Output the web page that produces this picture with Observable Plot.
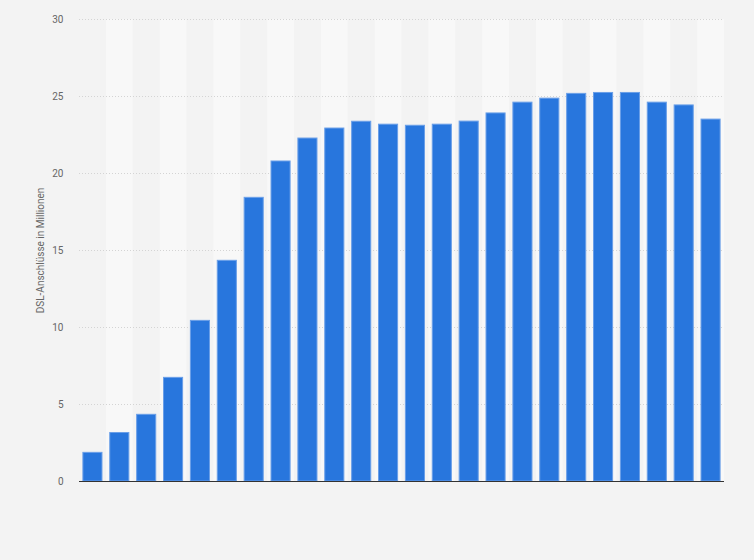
<!DOCTYPE html>
<html>
<head>
<meta charset="utf-8">
<script src="https://cdn.jsdelivr.net/npm/d3@7"></script>
<script src="https://cdn.jsdelivr.net/npm/@observablehq/plot@0.6"></script>
<style>
  html, body { margin: 0; padding: 0; background: #f3f3f3; }
  #chart { width: 754px; height: 560px; }
</style>
</head>
<body>
<div id="chart"></div>
<script>
const years = [2001,2002,2003,2004,2005,2006,2007,2008,2009,2010,2011,2012,2013,2014,2015,2016,2017,2018,2019,2020,2021,2022,2023,2024];
const connections = [1.86,3.15,4.33,6.73,10.43,14.33,18.42,20.78,22.27,22.92,23.36,23.17,23.1,23.17,23.37,23.9,24.6,24.86,25.17,25.23,25.23,24.6,24.42,23.5];
const yTicks = [0,5,10,15,20,25,30];
const yLabel = "DSL-Anschlüsse in Millionen";

const data = years.map((y, i) => ({year: y, value: connections[i]}));
const stripes = data.filter((d, i) => i % 2 === 1);

const W = 754, H = 560, mL = 79, mR = 30, mT = 19, mB = 79;
const padInner = 0.29;
const step = (W - mL - mR) / years.length;
const stripeInset = -(step * padInner) / 2;

const chart = Plot.plot({
  width: W,
  height: H,
  marginLeft: mL,
  marginRight: mR,
  marginTop: mT,
  marginBottom: mB,
  style: {background: "#f3f3f3", fontFamily: "Roboto, 'Liberation Sans', sans-serif", fontSize: "10px", color: "#666"},
  x: {domain: years, type: "band", paddingInner: padInner, paddingOuter: padInner / 2, round: false, axis: null},
  y: {domain: [0, 30], ticks: yTicks},
  marks: [
    Plot.barY(stripes, {x: "year", y1: 0, y2: 30, fill: "#f8f8f8", insetLeft: stripeInset, insetRight: stripeInset}),
    Plot.gridY(yTicks.filter(t => t > 0), {stroke: "#d4d4d4", strokeOpacity: 1, strokeDasharray: "1,2"}),
    Plot.axisY(yTicks, {tickSize: 0, tickPadding: 16, label: yLabel, labelAnchor: "center", labelOffset: 43, labelArrow: "none", fill: "#666", fontSize: 10}),
    Plot.barY(data, {x: "year", y: "value", fill: "#2876dd", stroke: "#6a9fe8", strokeWidth: 1}),
    Plot.ruleY([0], {stroke: "#333", strokeWidth: 1.2})
  ]
});
document.getElementById("chart").appendChild(chart);
</script>
</body>
</html>
